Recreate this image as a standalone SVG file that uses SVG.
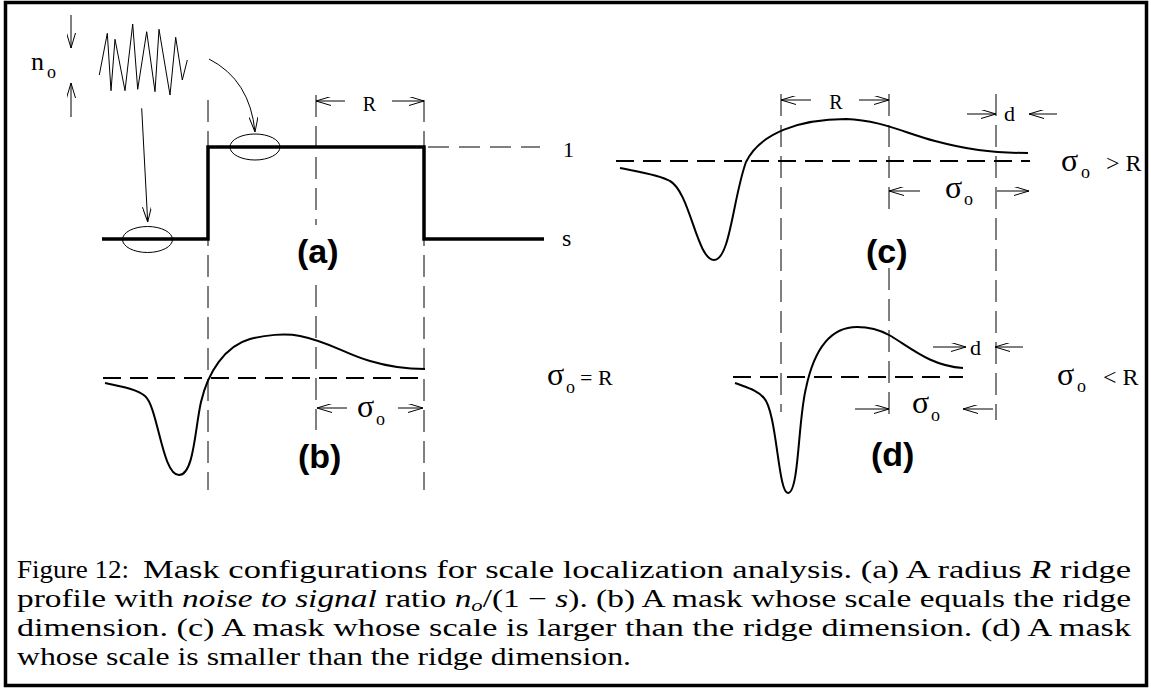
<svg xmlns="http://www.w3.org/2000/svg" width="1151" height="690" viewBox="0 0 1151 690">
<defs>
<style>
.thin{stroke:#000;stroke-width:1;fill:none}
.vdash{stroke:#000;stroke-width:1;stroke-dasharray:22 9;fill:none}
.hdash{stroke:#000;stroke-width:2;stroke-dasharray:18 9;fill:none}
.thick{stroke:#000;stroke-width:3.5;fill:none;stroke-linejoin:miter}
.curve{stroke:#000;stroke-width:2;fill:none}
.arr{stroke:#000;stroke-width:1;fill:none;marker-end:url(#ah)}
.lbl{font-family:"Liberation Serif","Times New Roman",serif;font-size:22px;fill:#000}
.sig{font-family:"Liberation Serif","Times New Roman",serif;font-size:32px;fill:#000}
.sub{font-family:"Liberation Serif","Times New Roman",serif;font-size:18px;fill:#000}
.panel{font-family:"Liberation Sans",Arial,sans-serif;font-weight:bold;font-size:34px;fill:#000}
.cap{font-family:"Liberation Serif","Times New Roman",serif;font-size:25px;fill:#000}
</style>
<marker id="ah" viewBox="0 0 15 9" refX="15" refY="4.5" markerWidth="15" markerHeight="9" markerUnits="userSpaceOnUse" orient="auto">
<path d="M0,0 L15,4.5 L0,9" fill="none" stroke="#000" stroke-width="1"/>
</marker>
</defs>
<rect x="5.5" y="2.5" width="1141" height="683" fill="#fff" stroke="#000" stroke-width="3.5"/>

<g id="guides">
<path class="vdash" d="M208,100 V490"/>
<path class="vdash" d="M316,95 V225 M316,285 V430"/>
<path class="vdash" d="M424,100 V490"/>
<path class="thin" style="stroke-dasharray:21 10" d="M428,147 H540"/>
<path class="vdash" d="M781,94 V412"/>
<path class="vdash" d="M889,94 V210 M889,268 V423"/>
<path class="vdash" d="M996,94 V420"/>
</g>

<g id="noise">
<polyline class="thin" points="99.3,75 107.3,33.3 111,90.7 115,39.3 125,90.7 132.7,24 137.7,89.3 146.7,31.7 155,91.7 159,29.3 170,95 175.7,37.3 182.3,80 187.3,60"/>
<text class="lbl" x="31" y="70" style="font-size:26px">n</text>
<text class="sub" x="47" y="78">o</text>
<path class="arr" d="M71,15 V48"/>
<path class="arr" d="M71,117 V83"/>
</g>

<g id="panel-a">
<path class="thick" d="M102,239 H208 V147 H424 V239 H544"/>
<ellipse class="thin" cx="147.5" cy="239.5" rx="25" ry="13"/>
<ellipse class="thin" cx="255" cy="147" rx="25" ry="13"/>
<text class="lbl" x="563" y="157">1</text>
<text class="lbl" x="562" y="246" style="font-size:24px">s</text>
<text class="lbl" x="369.5" y="111" text-anchor="middle" style="font-size:20px">R</text>
<text class="panel" x="297" y="263">(a)</text>
</g>

<g id="panel-b">
<path class="hdash" d="M103,378 H425"/>
<path class="curve" d="M105,383 C125,387 138,390 145,396 C158,407 162,475 179,475 C194,475 195,428 201,402 C208,372 225,346 250,339 C265,335 285,333 300,336 C330,342 345,354 370,361 C390,367 410,369 425,369"/>
<text class="sig" x="357" y="417">σ</text>
<text class="sub" x="376" y="425">o</text>
<text class="sig" x="547" y="385">σ</text>
<text class="sub" x="566" y="393">o</text>
<text class="lbl" x="580" y="385" style="font-size:22px">= R</text>
<text class="panel" x="298" y="468">(b)</text>
</g>

<g id="panel-c">
<path class="hdash" d="M616,161 H1030"/>
<path class="curve" d="M620,168 C640,172 660,175 670,181 C690,192 697,260 714,260 C730,260 733,198 746,162 C760,133 800,119 846,119 C880,120 905,133 935,141 C965,149 990,153 1028,153"/>
<text class="lbl" x="836" y="109" text-anchor="middle" style="font-size:20px">R</text>
<text class="lbl" x="1004" y="121">d</text>
<text class="sig" x="945" y="198">σ</text>
<text class="sub" x="964" y="205">o</text>
<text class="sig" x="1061" y="171">σ</text>
<text class="sub" x="1081" y="178">o</text>
<text class="lbl" x="1106" y="171" style="font-size:24px">&gt; R</text>
<text class="panel" x="866" y="263">(c)</text>
</g>

<g id="panel-d">
<path class="hdash" d="M733,377 H963"/>
<path class="curve" d="M735,383 C748,388 757,390 764,398 C777,412 778,493 788,493 C799,493 798,420 806,388 C814,350 830,327 857,327 C870,327 880,330 889,335 C910,347 930,366 963,368"/>
<text class="lbl" x="970" y="355">d</text>
<text class="sig" x="912" y="413">σ</text>
<text class="sub" x="931" y="421">o</text>
<text class="sig" x="1057" y="385">σ</text>
<text class="sub" x="1077" y="392">o</text>
<text class="lbl" x="1103" y="385" style="font-size:24px">&lt; R</text>
<text class="panel" x="871" y="466">(d)</text>
</g>

<g id="connectors">
<path class="arr" d="M141.7,108.3 L147.7,222"/>
<path class="arr" d="M209,59 Q250,80 255,132"/>
<path class="arr" d="M345,101 H316"/>
<path class="arr" d="M392,101 H424"/>
<path class="arr" d="M347,408 H317"/>
<path class="arr" d="M398,408 H423"/>
<path class="arr" d="M811,100 H781"/>
<path class="arr" d="M859,100 H889"/>
<path class="arr" d="M967,114 H996"/>
<path class="arr" d="M1057,114 H1029"/>
<path class="arr" d="M920,191 H889"/>
<path class="arr" d="M997,191 H1029"/>
<path class="arr" d="M933,347 H966"/>
<path class="arr" d="M1023,347 H995"/>
<path class="arr" d="M855,409 H889"/>
<path class="arr" d="M993,409 H963"/>
</g>

<g id="caption">
<text class="cap" x="17" y="578" textLength="112" lengthAdjust="spacingAndGlyphs">Figure 12:</text>
<text class="cap" x="143" y="578" textLength="988" lengthAdjust="spacingAndGlyphs">Mask configurations for scale localization analysis. (a) A radius <tspan font-style="italic">R</tspan> ridge</text>
<text class="cap" x="17" y="607" textLength="1114" lengthAdjust="spacingAndGlyphs">profile with <tspan font-style="italic">noise to signal</tspan> ratio <tspan font-style="italic">n</tspan><tspan font-style="italic" font-size="17" dy="4">o</tspan><tspan dy="-4">/(1 − </tspan><tspan font-style="italic">s</tspan>). (b) A mask whose scale equals the ridge</text>
<text class="cap" x="17" y="636" textLength="1114" lengthAdjust="spacingAndGlyphs">dimension. (c) A mask whose scale is larger than the ridge dimension. (d) A mask</text>
<text class="cap" x="17" y="665" textLength="614" lengthAdjust="spacingAndGlyphs">whose scale is smaller than the ridge dimension.</text>
</g>
</svg>
